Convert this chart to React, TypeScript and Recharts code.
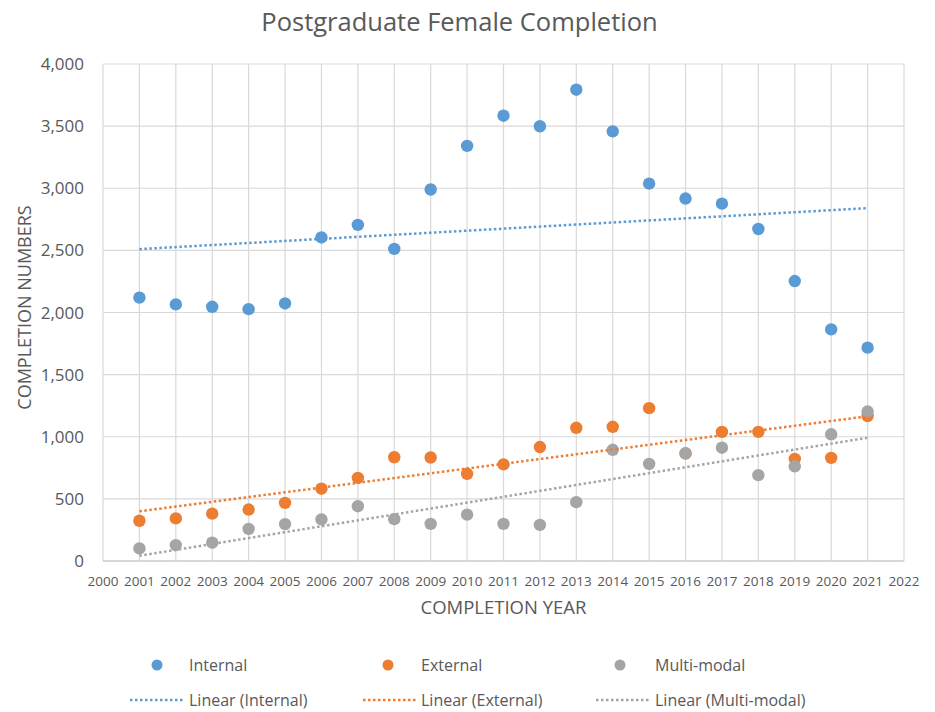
import React from 'react';
import { ScatterChart, Scatter, XAxis, YAxis, CartesianGrid, Label } from 'recharts';

const years = [2001, 2002, 2003, 2004, 2005, 2006, 2007, 2008, 2009, 2010, 2011, 2012, 2013, 2014, 2015, 2016, 2017, 2018, 2019, 2020, 2021];
const internal = [2120, 2065, 2046, 2027, 2073, 2604, 2705, 2512, 2990, 3341, 3584, 3499, 3793, 3458, 3037, 2917, 2876, 2672, 2253, 1864, 1717];
const external = [324, 343, 381, 414, 468, 582, 669, 835, 833, 702, 778, 917, 1072, 1080, 1230, 865, 1039, 1039, 822, 830, 1167];
const multiModal = [101, 128, 147, 258, 297, 335, 441, 337, 299, 373, 299, 291, 473, 895, 781, 868, 912, 691, 762, 1020, 1203];

const trendYears = [2001, 2021];
const internalTrend = [2510, 2840];
const externalTrend = [400, 1165];
const multiModalTrend = [42, 992];

const xTicks = [2000, 2001, 2002, 2003, 2004, 2005, 2006, 2007, 2008, 2009, 2010, 2011, 2012, 2013, 2014, 2015, 2016, 2017, 2018, 2019, 2020, 2021, 2022];
const yTicks = [0, 500, 1000, 1500, 2000, 2500, 3000, 3500, 4000];

const seriesNames = ['Internal', 'External', 'Multi-modal'];
const trendNames = ['Linear (Internal)', 'Linear (External)', 'Linear (Multi-modal)'];
const colors = ['#5B9BD5', '#ED7D31', '#A5A5A5'];

const FONT = '"Open Sans", sans-serif';
const TEXT = '#595959';

const toPoints = (xs: number[], ys: number[]) => xs.map((x, i) => ({ x, y: ys[i] }));

const dotShape = (color: string) => (props: any) => (
  <circle cx={props.cx} cy={props.cy} r={6.2} fill={color} />
);
const noShape = () => <g />;

const lineStyle = (color: string) => ({
  stroke: color,
  strokeWidth: 2.5,
  strokeDasharray: '2.5 2.5',
});

export default function App() {
  const legendRow1 = [
    { dot: 157, text: 189 },
    { dot: 388, text: 421 },
    { dot: 620, text: 655 },
  ];
  const legendRow2 = [
    { x1: 130, x2: 185, text: 189 },
    { x1: 363, x2: 418, text: 421 },
    { x1: 596, x2: 651, text: 655 },
  ];
  return (
    <div style={{ position: 'absolute', left: 0, top: 0, width: 935, height: 712, background: '#fff', fontFamily: FONT }}>
      <div style={{ position: 'absolute', left: 0, width: 935, top: 3, textAlign: 'center', fontSize: 25.5, color: TEXT, lineHeight: '36px' }}>
        <span style={{ position: 'relative', left: -8 }}>Postgraduate Female Completion</span>
      </div>
      <ScatterChart width={935} height={712} margin={{ top: 64, right: 31, bottom: 121, left: 0 }}>
        <CartesianGrid stroke="#d9d9d9" strokeWidth={1.2} />
        <XAxis
          type="number"
          dataKey="x"
          domain={[2000, 2022]}
          ticks={xTicks}
          interval={0}
          height={30}
          tickSize={0}
          tickMargin={15}
          axisLine={{ stroke: '#d0d0d0', strokeWidth: 1.4 }}
          tick={{ fill: TEXT, fontSize: 13.5, fontFamily: FONT }}
        >
          <Label
            value="COMPLETION YEAR"
            position="bottom"
            offset={10}
            style={{ fill: TEXT, fontSize: 18.5, fontFamily: FONT }}
          />
        </XAxis>
        <YAxis
          type="number"
          dataKey="y"
          domain={[0, 4000]}
          ticks={yTicks}
          interval={0}
          width={103}
          tickSize={0}
          tickMargin={19}
          axisLine={false}
          tickFormatter={(v: number) => v.toLocaleString('en-US')}
          tick={{ fill: TEXT, fontSize: 17, fontFamily: FONT }}
        >
          <Label
            content={(props: any) => {
              const vb = props.viewBox || { y: 64, height: 497 };
              const cy = vb.y + vb.height / 2 - 5;
              return (
                <text
                  x={24}
                  y={cy}
                  transform={`rotate(-90, 24, ${cy})`}
                  textAnchor="middle"
                  dominantBaseline="central"
                  fill={TEXT}
                  fontSize={18}
                  fontFamily={FONT}
                >
                  COMPLETION NUMBERS
                </text>
              );
            }}
          />
        </YAxis>
        <Scatter name={seriesNames[0]} data={toPoints(years, internal)} shape={dotShape(colors[0])} isAnimationActive={false} />
        <Scatter name={seriesNames[1]} data={toPoints(years, external)} shape={dotShape(colors[1])} isAnimationActive={false} />
        <Scatter name={seriesNames[2]} data={toPoints(years, multiModal)} shape={dotShape(colors[2])} isAnimationActive={false} />
        <Scatter name={trendNames[0]} data={toPoints(trendYears, internalTrend)} shape={noShape} line={lineStyle(colors[0])} isAnimationActive={false} />
        <Scatter name={trendNames[1]} data={toPoints(trendYears, externalTrend)} shape={noShape} line={lineStyle(colors[1])} isAnimationActive={false} />
        <Scatter name={trendNames[2]} data={toPoints(trendYears, multiModalTrend)} shape={noShape} line={lineStyle(colors[2])} isAnimationActive={false} />
      </ScatterChart>
      {legendRow1.map((p, i) => (
        <React.Fragment key={'r1' + i}>
          <svg style={{ position: 'absolute', left: p.dot - 6, top: 659 }} width={12} height={12}>
            <circle cx={6} cy={6} r={5.5} fill={colors[i]} />
          </svg>
          <div style={{ position: 'absolute', left: p.text, top: 654, lineHeight: '22px', fontSize: 16, color: TEXT, whiteSpace: 'nowrap' }}>
            {seriesNames[i]}
          </div>
        </React.Fragment>
      ))}
      {legendRow2.map((p, i) => (
        <React.Fragment key={'r2' + i}>
          <svg style={{ position: 'absolute', left: p.x1, top: 697 }} width={p.x2 - p.x1} height={6}>
            <line x1={0} y1={3} x2={p.x2 - p.x1} y2={3} stroke={colors[i]} strokeWidth={2.5} strokeDasharray="2.5 2.5" />
          </svg>
          <div style={{ position: 'absolute', left: p.text, top: 689, lineHeight: '22px', fontSize: 16, color: TEXT, whiteSpace: 'nowrap' }}>
            {trendNames[i]}
          </div>
        </React.Fragment>
      ))}
    </div>
  );
}
